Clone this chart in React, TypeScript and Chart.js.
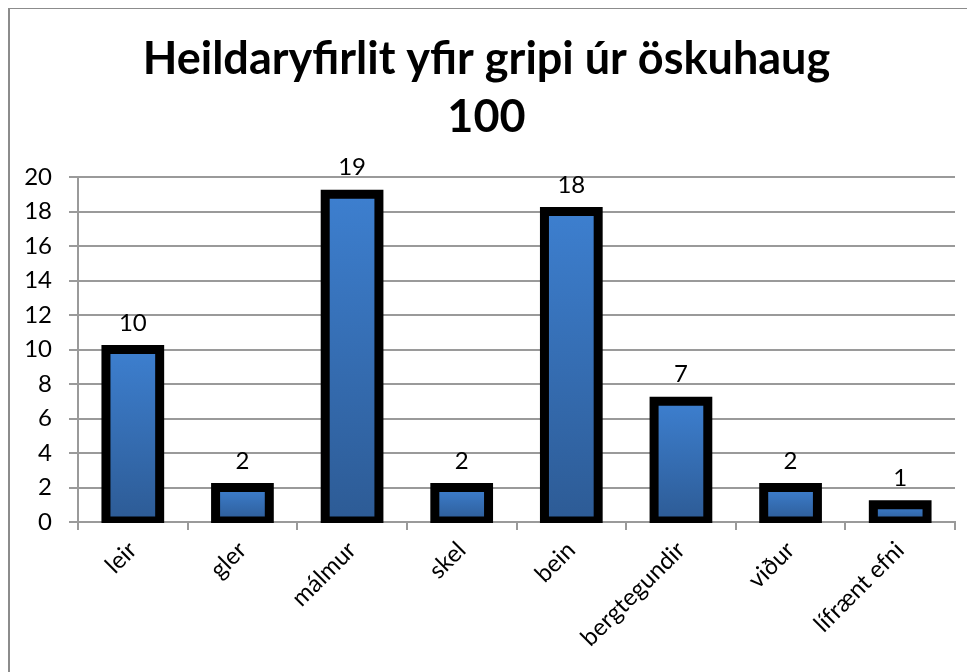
import { useEffect, useRef } from 'react';
import { Chart, registerables } from 'chart.js';

Chart.register(...registerables);

const categories = ['leir', 'gler', 'málmur', 'skel', 'bein', 'bergtegundir', 'viður', 'lífrænt efni'];
const counts = [10, 2, 19, 2, 18, 7, 2, 1];
const titleLines = ['Heildaryfirlit yfir gripi úr öskuhaug', '100'];
const yMin = 0;
const yMax = 20;
const yStep = 2;

const FONT = 'Lato, "Open Sans", sans-serif';
const GRID = '#9a9a9a';

const barOutline = {
  id: 'barOutline',
  afterDatasetsDraw(chart: any) {
    const { ctx, chartArea } = chart;
    const meta = chart.getDatasetMeta(0);
    ctx.save();
    ctx.beginPath();
    ctx.rect(chartArea.left, 0, chartArea.right - chartArea.left, chartArea.bottom + 1);
    ctx.clip();
    ctx.strokeStyle = '#000';
    ctx.lineWidth = 9;
    ctx.lineJoin = 'miter';
    meta.data.forEach((bar: any) => {
      const { x, y, base, width } = bar.getProps(['x', 'y', 'base', 'width'], true);
      ctx.strokeRect(x - width / 2, y, width, base - y);
    });
    ctx.restore();
    ctx.save();
    ctx.fillStyle = '#000';
    ctx.font = `24px ${FONT}`;
    ctx.textAlign = 'center';
    ctx.textBaseline = 'alphabetic';
    meta.data.forEach((bar: any, i: number) => {
      const { x, y } = bar.getProps(['x', 'y'], true);
      ctx.fillText(String(counts[i]), x, y - 19);
    });
    ctx.restore();
  },
};

export default function App() {
  const ref = useRef<HTMLCanvasElement>(null);
  useEffect(() => {
    document.body.style.overflow = 'hidden';
    document.documentElement.style.overflow = 'hidden';
    const canvas = ref.current!;
    const chart = new Chart(canvas, {
      type: 'bar',
      data: {
        labels: categories,
        datasets: [
          {
            data: counts,
            borderWidth: 0,
            categoryPercentage: 1,
            barPercentage: 0.49,
            backgroundColor: (c: any) => {
              const ch = c.chart;
              const ys = ch.scales?.y;
              if (!ch.chartArea || !ys || c.type !== 'data') return '#3870b8';
              const top = ys.getPixelForValue(c.raw);
              const bottom = ys.getPixelForValue(0);
              const g = ch.ctx.createLinearGradient(0, top, 0, bottom);
              g.addColorStop(0, '#3d7fcf');
              g.addColorStop(1, '#2d5b95');
              return g;
            },
          },
        ],
      },
      options: {
        responsive: false,
        animation: false,
        devicePixelRatio: 1,
        layout: { padding: { left: 8, right: 12, top: 0, bottom: 0 } },
        plugins: {
          legend: { display: false },
          tooltip: { enabled: false },
          title: {
            display: true,
            text: titleLines,
            color: '#000',
            font: { family: FONT, size: 45, weight: 'bold', lineHeight: 1.3 },
            padding: { top: 21, bottom: 30 },
          },
        },
        scales: {
          x: {
            grid: {
              display: true,
              drawOnChartArea: false,
              drawTicks: true,
              tickLength: 8,
              offset: true,
              color: GRID,
              lineWidth: 2,
            },
            border: { display: true, color: GRID, width: 2 },
            ticks: {
              color: '#000',
              font: { family: FONT, size: 24 },
              maxRotation: 45,
              minRotation: 45,
              padding: 6,
              autoSkip: false,
            },
            afterFit: (s: any) => {
              s.height = 143;
            },
          },
          y: {
            min: yMin,
            max: yMax,
            ticks: {
              stepSize: yStep,
              color: '#000',
              font: { family: FONT, size: 24 },
              padding: 17,
            },
            grid: { color: GRID, lineWidth: 2, tickLength: 9 },
            border: { display: true, color: GRID, width: 2 },
            afterFit: (s: any) => {
              s.width = 60;
            },
          },
        },
      },
      plugins: [barOutline],
    });
    return () => chart.destroy();
  }, []);

  return (
    <div
      style={{
        width: 959,
        height: 665,
        marginTop: -1,
        borderTop: '2px solid #8c8c8c',
        borderLeft: '2px solid #8c8c8c',
        boxSizing: 'border-box',
        background: '#fff',
      }}
    >
      <canvas ref={ref} width={957} height={656} style={{ display: 'block', width: 957, height: 656 }} />
    </div>
  );
}
